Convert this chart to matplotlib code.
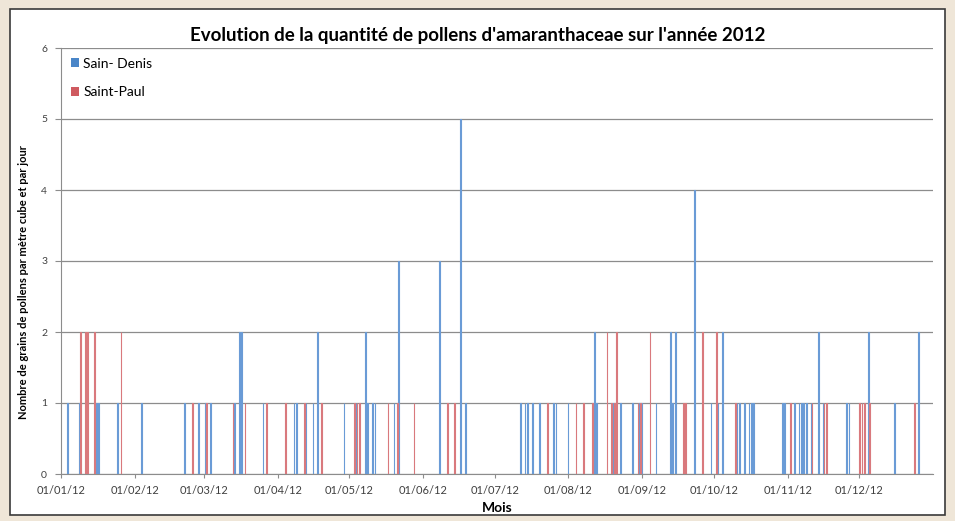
import matplotlib.pyplot as plt
import matplotlib.dates as mdates
from matplotlib.patches import Patch, Rectangle
import numpy as np
import datetime as dt

# Saint-Denis (blue) : date, value
denis_dates = ['04/01', '09/01', '16/01', '17/01', '25/01', '04/02', '22/02', '28/02',
               '02/03', '04/03', '14/03', '16/03', '17/03', '26/03', '08/04', '09/04',
               '13/04', '16/04', '18/04', '29/04', '04/05', '08/05', '09/05', '11/05',
               '12/05', '20/05', '22/05', '08/06', '17/06', '19/06', '12/07', '14/07',
               '15/07', '17/07', '20/07', '26/07', '27/07', '01/08', '12/08', '13/08',
               '20/08', '23/08', '28/08', '31/08', '01/09', '07/09', '13/09', '14/09',
               '15/09', '23/09', '30/09', '03/10', '05/10', '11/10', '12/10', '14/10',
               '16/10', '17/10', '18/10', '30/10', '31/10', '04/11', '06/11', '07/11',
               '08/11', '09/11', '11/11', '14/11', '16/11', '26/11', '27/11', '05/12',
               '16/12', '26/12']
denis_values = [1, 1, 1, 1, 1, 1, 1, 1,
                1, 1, 1, 2, 2, 1, 1, 1,
                1, 1, 2, 1, 1, 2, 1, 1,
                1, 1, 3, 3, 5, 1, 1, 1,
                1, 1, 1, 1, 1, 1, 2, 1,
                1, 1, 1, 1, 1, 1, 2, 1,
                2, 4, 1, 1, 2, 1, 1, 1,
                1, 1, 1, 1, 1, 1, 1, 1,
                1, 1, 1, 2, 1, 1, 1, 2,
                1, 2]

# Saint-Paul (red)
paul_dates = ['09/01', '11/01', '12/01', '15/01', '26/01', '25/02', '02/03', '13/03',
              '18/03', '27/03', '04/04', '12/04', '19/04', '03/05', '04/05', '05/05',
              '17/05', '21/05', '28/05', '11/06', '14/06', '23/07', '04/08', '07/08',
              '11/08', '17/08', '19/08', '20/08', '21/08', '30/08', '31/08', '04/09',
              '18/09', '19/09', '26/09', '02/10', '10/10', '02/11', '11/11', '16/11',
              '17/11', '01/12', '02/12', '03/12', '05/12', '24/12']
paul_values = [2, 2, 2, 2, 2, 1, 1, 1,
               1, 1, 1, 1, 1, 1, 1, 1,
               1, 1, 1, 1, 1, 1, 1, 1,
               1, 2, 1, 1, 2, 1, 1, 2,
               1, 1, 2, 2, 1, 1, 1, 1,
               1, 1, 1, 1, 1, 1]

months = ['01/01/12', '01/02/12', '01/03/12', '01/04/12', '01/05/12', '01/06/12',
          '01/07/12', '01/08/12', '01/09/12', '01/10/12', '01/11/12', '01/12/12']


def to_date(s):
    d, m = s.split('/')
    return dt.datetime(2012, int(m), int(d))


plt.rcParams['font.family'] = ['Lato', 'DejaVu Sans']

fig = plt.figure(figsize=(9.55, 5.21), dpi=100)
fig.patch.set_facecolor('#efe6d8')

# white chart frame behind everything
bg = fig.add_axes([0, 0, 1, 1], zorder=-5)
bg.set_axis_off()
bg.set_xlim(0, 955)
bg.set_ylim(521, 0)
bg.add_patch(Rectangle((10, 9), 935, 506, facecolor='white', edgecolor='#3a3a3a', linewidth=1.2))

ax = fig.add_axes([61 / 955, 1 - 474 / 521, 872 / 955, 426 / 521])
ax.set_facecolor('none')

blue = '#4a86c8'
red = '#cf5a60'
off = dt.timedelta(hours=5)
bd = [to_date(s) - off for s in denis_dates]
rd = [to_date(s) + off for s in paul_dates]
ax.bar(bd, denis_values, width=0.3, color='#c3d7f0', edgecolor='#6a9bd6', linewidth=0.8, zorder=3)
ax.bar(rd, paul_values, width=0.3, color='#f0c6c8', edgecolor='#d9797d', linewidth=0.8, zorder=3)

ax.set_xlim(dt.datetime(2012, 1, 1), dt.datetime(2013, 1, 1))
ax.set_ylim(0, 6)
ax.set_yticks(range(7))
ax.yaxis.grid(True, color='#8c8c8c', linewidth=0.9, zorder=1)
ax.set_axisbelow(True)

tick_dates = [dt.datetime.strptime(m, '%d/%m/%y') for m in months]
ax.set_xticks(tick_dates)
ax.set_xticklabels(months, fontsize=8, color='#404040')
ax.tick_params(axis='x', length=3, color='#8c8c8c', pad=5)
ax.tick_params(axis='y', length=4, color='#8c8c8c', labelsize=7.5, labelcolor='#404040', pad=6)

for s in ['top', 'right']:
    ax.spines[s].set_visible(False)
for s in ['left', 'bottom']:
    ax.spines[s].set_color('#8c8c8c')

ax.set_xlabel('Mois', fontsize=10, fontweight='bold', labelpad=4)
ax.set_ylabel('Nombre de grains de pollens par mètre cube et par jour', fontsize=8,
              fontweight='bold')
ax.yaxis.set_label_coords(-0.037, 0.45)
fig.text(0.5, 1 - 35 / 521, "Evolution de la quantité de pollens d'amaranthaceae sur l'année 2012",
         ha='center', va='center', fontsize=13.5, fontweight='bold')

handles = [Patch(facecolor=blue, label='Sain- Denis'), Patch(facecolor=red, label='Saint-Paul')]
ax.legend(handles=handles, loc='upper left', bbox_to_anchor=(0.0, 1.0), frameon=False,
          fontsize=10, handlelength=0.6, handleheight=0.6, handletextpad=0.3,
          labelspacing=1.2, borderaxespad=0.3)

fig.savefig('out.png', dpi=100, facecolor=fig.get_facecolor())
